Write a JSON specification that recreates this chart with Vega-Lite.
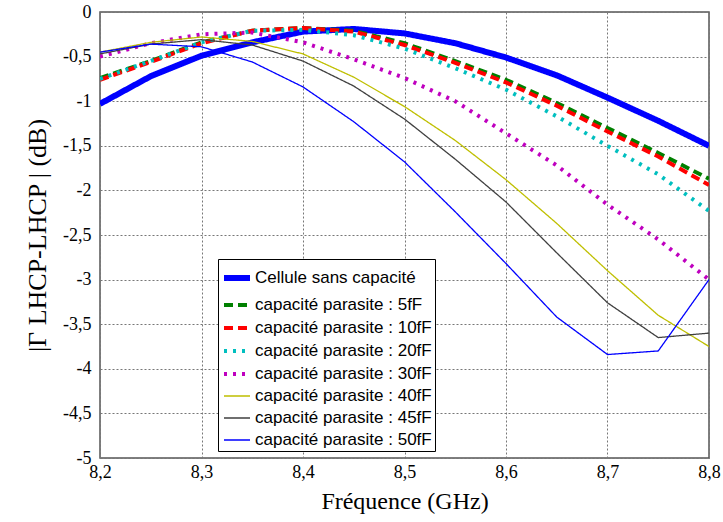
{
  "$schema": "https://vega.github.io/schema/vega-lite/v6.json",
  "width": 609,
  "height": 446,
  "autosize": "none",
  "padding": {"left": 100, "top": 12, "right": 14, "bottom": 64},
  "background": "white",
  "data": {"values": [
    {"f":8.2,"s":"Cellule sans capacité","v":-1.03},{"f":8.25,"s":"Cellule sans capacité","v":-0.72},{"f":8.3,"s":"Cellule sans capacité","v":-0.49},{"f":8.35,"s":"Cellule sans capacité","v":-0.34},{"f":8.4,"s":"Cellule sans capacité","v":-0.22},{"f":8.45,"s":"Cellule sans capacité","v":-0.19},{"f":8.5,"s":"Cellule sans capacité","v":-0.24},{"f":8.55,"s":"Cellule sans capacité","v":-0.35},{"f":8.6,"s":"Cellule sans capacité","v":-0.51},{"f":8.65,"s":"Cellule sans capacité","v":-0.71},{"f":8.7,"s":"Cellule sans capacité","v":-0.96},{"f":8.75,"s":"Cellule sans capacité","v":-1.22},{"f":8.8,"s":"Cellule sans capacité","v":-1.5},
    {"f":8.2,"s":"capacité parasite : 5fF","v":-0.74},{"f":8.25,"s":"capacité parasite : 5fF","v":-0.55},{"f":8.3,"s":"capacité parasite : 5fF","v":-0.34},{"f":8.35,"s":"capacité parasite : 5fF","v":-0.21},{"f":8.4,"s":"capacité parasite : 5fF","v":-0.18},{"f":8.45,"s":"capacité parasite : 5fF","v":-0.21},{"f":8.5,"s":"capacité parasite : 5fF","v":-0.35},{"f":8.55,"s":"capacité parasite : 5fF","v":-0.55},{"f":8.6,"s":"capacité parasite : 5fF","v":-0.76},{"f":8.65,"s":"capacité parasite : 5fF","v":-1.02},{"f":8.7,"s":"capacité parasite : 5fF","v":-1.3},{"f":8.75,"s":"capacité parasite : 5fF","v":-1.58},{"f":8.8,"s":"capacité parasite : 5fF","v":-1.87},
    {"f":8.2,"s":"capacité parasite : 10fF","v":-0.76},{"f":8.25,"s":"capacité parasite : 10fF","v":-0.56},{"f":8.3,"s":"capacité parasite : 10fF","v":-0.35},{"f":8.35,"s":"capacité parasite : 10fF","v":-0.21},{"f":8.4,"s":"capacité parasite : 10fF","v":-0.18},{"f":8.45,"s":"capacité parasite : 10fF","v":-0.22},{"f":8.5,"s":"capacité parasite : 10fF","v":-0.37},{"f":8.55,"s":"capacité parasite : 10fF","v":-0.57},{"f":8.6,"s":"capacité parasite : 10fF","v":-0.79},{"f":8.65,"s":"capacité parasite : 10fF","v":-1.05},{"f":8.7,"s":"capacité parasite : 10fF","v":-1.34},{"f":8.75,"s":"capacité parasite : 10fF","v":-1.62},{"f":8.8,"s":"capacité parasite : 10fF","v":-1.94},
    {"f":8.2,"s":"capacité parasite : 20fF","v":-0.75},{"f":8.25,"s":"capacité parasite : 20fF","v":-0.55},{"f":8.3,"s":"capacité parasite : 20fF","v":-0.34},{"f":8.35,"s":"capacité parasite : 20fF","v":-0.21},{"f":8.4,"s":"capacité parasite : 20fF","v":-0.2},{"f":8.45,"s":"capacité parasite : 20fF","v":-0.26},{"f":8.5,"s":"capacité parasite : 20fF","v":-0.41},{"f":8.55,"s":"capacité parasite : 20fF","v":-0.63},{"f":8.6,"s":"capacité parasite : 20fF","v":-0.87},{"f":8.65,"s":"capacité parasite : 20fF","v":-1.17},{"f":8.7,"s":"capacité parasite : 20fF","v":-1.5},{"f":8.75,"s":"capacité parasite : 20fF","v":-1.82},{"f":8.8,"s":"capacité parasite : 20fF","v":-2.23},
    {"f":8.2,"s":"capacité parasite : 30fF","v":-0.5},{"f":8.25,"s":"capacité parasite : 30fF","v":-0.35},{"f":8.3,"s":"capacité parasite : 30fF","v":-0.25},{"f":8.35,"s":"capacité parasite : 30fF","v":-0.23},{"f":8.4,"s":"capacité parasite : 30fF","v":-0.34},{"f":8.45,"s":"capacité parasite : 30fF","v":-0.53},{"f":8.5,"s":"capacité parasite : 30fF","v":-0.74},{"f":8.55,"s":"capacité parasite : 30fF","v":-1.0},{"f":8.6,"s":"capacité parasite : 30fF","v":-1.36},{"f":8.65,"s":"capacité parasite : 30fF","v":-1.72},{"f":8.7,"s":"capacité parasite : 30fF","v":-2.16},{"f":8.75,"s":"capacité parasite : 30fF","v":-2.55},{"f":8.8,"s":"capacité parasite : 30fF","v":-3.0},
    {"f":8.2,"s":"capacité parasite : 40fF","v":-0.45},{"f":8.25,"s":"capacité parasite : 40fF","v":-0.34},{"f":8.3,"s":"capacité parasite : 40fF","v":-0.28},{"f":8.35,"s":"capacité parasite : 40fF","v":-0.33},{"f":8.4,"s":"capacité parasite : 40fF","v":-0.47},{"f":8.45,"s":"capacité parasite : 40fF","v":-0.73},{"f":8.5,"s":"capacité parasite : 40fF","v":-1.06},{"f":8.55,"s":"capacité parasite : 40fF","v":-1.44},{"f":8.6,"s":"capacité parasite : 40fF","v":-1.88},{"f":8.65,"s":"capacité parasite : 40fF","v":-2.37},{"f":8.7,"s":"capacité parasite : 40fF","v":-2.9},{"f":8.75,"s":"capacité parasite : 40fF","v":-3.4},{"f":8.8,"s":"capacité parasite : 40fF","v":-3.75},
    {"f":8.2,"s":"capacité parasite : 45fF","v":-0.47},{"f":8.25,"s":"capacité parasite : 45fF","v":-0.36},{"f":8.3,"s":"capacité parasite : 45fF","v":-0.31},{"f":8.35,"s":"capacité parasite : 45fF","v":-0.37},{"f":8.4,"s":"capacité parasite : 45fF","v":-0.55},{"f":8.45,"s":"capacité parasite : 45fF","v":-0.83},{"f":8.5,"s":"capacité parasite : 45fF","v":-1.2},{"f":8.55,"s":"capacité parasite : 45fF","v":-1.65},{"f":8.6,"s":"capacité parasite : 45fF","v":-2.13},{"f":8.65,"s":"capacité parasite : 45fF","v":-2.7},{"f":8.7,"s":"capacité parasite : 45fF","v":-3.26},{"f":8.75,"s":"capacité parasite : 45fF","v":-3.65},{"f":8.8,"s":"capacité parasite : 45fF","v":-3.6},
    {"f":8.2,"s":"capacité parasite : 50fF","v":-0.45},{"f":8.25,"s":"capacité parasite : 50fF","v":-0.36},{"f":8.3,"s":"capacité parasite : 50fF","v":-0.39},{"f":8.35,"s":"capacité parasite : 50fF","v":-0.56},{"f":8.4,"s":"capacité parasite : 50fF","v":-0.84},{"f":8.45,"s":"capacité parasite : 50fF","v":-1.23},{"f":8.5,"s":"capacité parasite : 50fF","v":-1.68},{"f":8.55,"s":"capacité parasite : 50fF","v":-2.24},{"f":8.6,"s":"capacité parasite : 50fF","v":-2.82},{"f":8.65,"s":"capacité parasite : 50fF","v":-3.42},{"f":8.7,"s":"capacité parasite : 50fF","v":-3.84},{"f":8.75,"s":"capacité parasite : 50fF","v":-3.8},{"f":8.8,"s":"capacité parasite : 50fF","v":-3.0}
  ]},
  "mark": {"type": "line", "clip": true},
  "encoding": {
    "x": {
      "field": "f", "type": "quantitative",
      "scale": {"domain": [8.2, 8.8], "nice": false, "zero": false},
      "axis": {
        "values": [8.2, 8.3, 8.4, 8.5, 8.6, 8.7, 8.8],
        "labelExpr": "replace(toString(datum.value), '.', ',')",
        "labelFlush": false,
        "title": "Fréquence (GHz)",
        "titleFont": "Liberation Serif", "titleFontSize": 24, "titleFontWeight": "normal", "titleColor": "#000", "titlePadding": 8,
        "labelFont": "Liberation Serif", "labelFontSize": 18, "labelColor": "#000", "labelPadding": 5,
        "grid": true, "gridDash": [2, 2], "gridColor": "#777", "gridOpacity": 1,
        "domain": false, "ticks": false
      }
    },
    "y": {
      "field": "v", "type": "quantitative",
      "scale": {"domain": [-5, 0], "nice": false, "zero": false},
      "axis": {
        "values": [0, -0.5, -1, -1.5, -2, -2.5, -3, -3.5, -4, -4.5, -5],
        "labelExpr": "replace(toString(datum.value), '.', ',')",
        "labelFlush": false,
        "title": "|Γ LHCP-LHCP | (dB)",
        "titleFont": "Liberation Serif", "titleFontSize": 26, "titleFontWeight": "normal", "titleColor": "#000", "titlePadding": 12,
        "labelFont": "Liberation Serif", "labelFontSize": 18, "labelColor": "#000", "labelPadding": 9,
        "grid": true, "gridDash": [2, 2], "gridColor": "#777", "gridOpacity": 1,
        "domain": false, "ticks": false
      }
    },
    "color": {
      "field": "s", "type": "nominal",
      "scale": {
        "domain": ["Cellule sans capacité", "capacité parasite : 5fF", "capacité parasite : 10fF", "capacité parasite : 20fF", "capacité parasite : 30fF", "capacité parasite : 40fF", "capacité parasite : 45fF", "capacité parasite : 50fF"],
        "range": ["#0000FF", "#008000", "#FF0000", "#00BFBF", "#BF00BF", "#BFBF00", "#404040", "#0000FF"]
      },
      "legend": {
        "title": null, "orient": "none", "legendX": 118, "legendY": 247,
        "symbolType": "stroke", "symbolSize": 676,
        "labelFont": "Liberation Sans", "labelFontSize": 17, "labelColor": "#000", "labelOffset": 2,
        "fillColor": "white", "strokeColor": "#000", "padding": 3, "rowPadding": 0,
        "labelLimit": 300
      }
    },
    "strokeDash": {
      "field": "s", "type": "nominal",
      "scale": {
        "domain": ["Cellule sans capacité", "capacité parasite : 5fF", "capacité parasite : 10fF", "capacité parasite : 20fF", "capacité parasite : 30fF", "capacité parasite : 40fF", "capacité parasite : 45fF", "capacité parasite : 50fF"],
        "range": [[1, 0], [9, 5], [9, 5], [3, 6], [3, 6], [1, 0], [1, 0], [1, 0]]
      }
    },
    "strokeWidth": {
      "field": "s", "type": "nominal",
      "scale": {
        "type": "ordinal",
        "domain": ["Cellule sans capacité", "capacité parasite : 5fF", "capacité parasite : 10fF", "capacité parasite : 20fF", "capacité parasite : 30fF", "capacité parasite : 40fF", "capacité parasite : 45fF", "capacité parasite : 50fF"],
        "range": [6, 4, 4, 4, 4, 1.3, 1.3, 1.3]
      }
    }
  },
  "config": {
    "view": {"stroke": "#555", "strokeWidth": 1.5},
    "font": "Liberation Sans"
  }
}
